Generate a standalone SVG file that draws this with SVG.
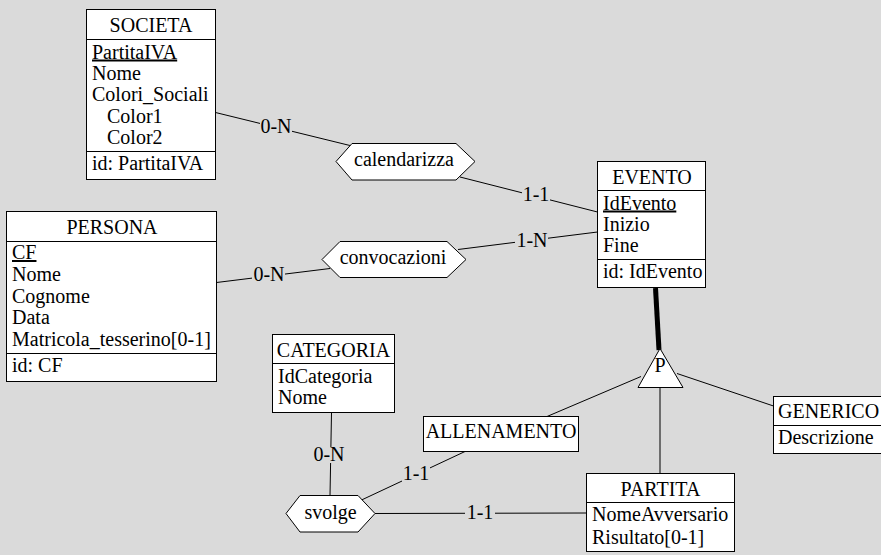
<svg xmlns="http://www.w3.org/2000/svg" width="881" height="555" viewBox="0 0 881 555">
<style>
.bg{fill:#dadada}
.box{fill:#fff;stroke:#000;stroke-width:1}
.sep{stroke:#000;stroke-width:1}
.t{font-family:"Liberation Serif","Times New Roman",serif;font-size:20px;fill:#000}
.c{text-anchor:middle}
.u{text-decoration:underline}
.ln{stroke:#000;stroke-width:1;fill:none}
.thick{stroke:#000;stroke-width:5;fill:none}
.lb{fill:#dadada}
</style>
<rect class="bg" x="0" y="0" width="881" height="555"/>

<g id="connectors">
  <line class="ln" x1="215.5" y1="112.5" x2="352" y2="146"/>
  <line class="ln" x1="460" y1="177" x2="597.5" y2="212"/>
  <line class="ln" x1="216.5" y1="282.5" x2="330" y2="268.5"/>
  <line class="ln" x1="458" y1="249.5" x2="597.5" y2="232"/>
  <line class="thick" x1="655.5" y1="288" x2="659" y2="350"/>
  <line class="ln" x1="641" y1="376.5" x2="547" y2="416.5"/>
  <line class="ln" x1="677" y1="373.5" x2="773.5" y2="406"/>
  <line class="ln" x1="660" y1="387.5" x2="660" y2="473.5"/>
  <line class="ln" x1="331.5" y1="412.5" x2="330" y2="495.5"/>
  <line class="ln" x1="361.5" y1="500" x2="465" y2="451.5"/>
  <line class="ln" x1="375" y1="513.5" x2="586.5" y2="513"/>
  <rect class="lb" x="260" y="119" width="32" height="16"/>
  <text class="t c" x="276" y="133">0-N</text>
  <rect class="lb" x="522" y="187" width="28" height="16"/>
  <text class="t c" x="536" y="200.5">1-1</text>
  <rect class="lb" x="252" y="267" width="33" height="16"/>
  <text class="t c" x="269" y="281">0-N</text>
  <rect class="lb" x="515" y="233" width="33" height="16"/>
  <text class="t c" x="532" y="247">1-N</text>
  <rect class="lb" x="313" y="447" width="32" height="16"/>
  <text class="t c" x="329" y="461">0-N</text>
  <rect class="lb" x="402" y="466" width="28" height="16"/>
  <text class="t c" x="416" y="480">1-1</text>
  <rect class="lb" x="465" y="504" width="30" height="16"/>
  <text class="t c" x="480" y="518.5">1-1</text>
</g>

<g id="SOCIETA">
  <rect class="box" x="86.5" y="9.5" width="129" height="170"/>
  <line class="sep" x1="86.5" y1="39.5" x2="215.5" y2="39.5"/>
  <line class="sep" x1="86.5" y1="151.5" x2="215.5" y2="151.5"/>
  <text class="t c" x="151" y="32">SOCIETA</text>
  <text class="t u" x="92" y="58.5">PartitaIVA</text>
  <text class="t" x="92" y="80">Nome</text>
  <text class="t" x="92" y="101">Colori_Sociali</text>
  <text class="t" x="107" y="122.5">Color1</text>
  <text class="t" x="107" y="144">Color2</text>
  <text class="t" x="92" y="170">id: PartitaIVA</text>
</g>

<g id="PERSONA">
  <rect class="box" x="6.5" y="211.5" width="210" height="170"/>
  <line class="sep" x1="6.5" y1="241.5" x2="216.5" y2="241.5"/>
  <line class="sep" x1="6.5" y1="353.5" x2="216.5" y2="353.5"/>
  <text class="t c" x="112" y="234">PERSONA</text>
  <text class="t u" x="12" y="259">CF</text>
  <text class="t" x="12" y="281">Nome</text>
  <text class="t" x="12" y="302.5">Cognome</text>
  <text class="t" x="12" y="324">Data</text>
  <text class="t" x="12" y="346">Matricola_tesserino[0-1]</text>
  <text class="t" x="12" y="372">id: CF</text>
</g>

<g id="EVENTO">
  <rect class="box" x="597.5" y="161.5" width="108" height="126"/>
  <line class="sep" x1="597.5" y1="190.5" x2="705.5" y2="190.5"/>
  <line class="sep" x1="597.5" y1="259.5" x2="705.5" y2="259.5"/>
  <text class="t c" x="652" y="184">EVENTO</text>
  <text class="t u" x="603" y="209.5">IdEvento</text>
  <text class="t" x="603" y="230.5">Inizio</text>
  <text class="t" x="603" y="252">Fine</text>
  <text class="t" x="603" y="278">id: IdEvento</text>
</g>

<g id="CATEGORIA">
  <rect class="box" x="272.5" y="334.5" width="122" height="78"/>
  <line class="sep" x1="272.5" y1="363.5" x2="394.5" y2="363.5"/>
  <text class="t c" x="333.5" y="357">CATEGORIA</text>
  <text class="t" x="278" y="382.5">IdCategoria</text>
  <text class="t" x="278" y="403.5">Nome</text>
</g>

<g id="ALLENAMENTO">
  <rect class="box" x="423.5" y="416.5" width="155" height="35"/>
  <text class="t c" x="501" y="437.5">ALLENAMENTO</text>
</g>

<g id="PARTITA">
  <rect class="box" x="586.5" y="473.5" width="148" height="78"/>
  <line class="sep" x1="586.5" y1="502.5" x2="734.5" y2="502.5"/>
  <text class="t c" x="660.5" y="496">PARTITA</text>
  <text class="t" x="592" y="521">NomeAvversario</text>
  <text class="t" x="592" y="543.5">Risultato[0-1]</text>
</g>

<g id="GENERICO">
  <rect class="box" x="773.5" y="396.5" width="120" height="57"/>
  <line class="sep" x1="773.5" y1="425.5" x2="893.5" y2="425.5"/>
  <text class="t" x="778" y="417.5">GENERICO</text>
  <text class="t" x="778" y="443.5">Descrizione</text>
</g>

<g id="calendarizza">
  <polygon class="box" points="336,161.5 352,143.5 456,143.5 475,161.5 456,180 352,180"/>
  <text class="t c" x="404" y="166">calendarizza</text>
</g>

<g id="convocazioni">
  <polygon class="box" points="322,259.5 340,241.5 447,241.5 466,259.5 447,277.5 340,277.5"/>
  <text class="t c" x="393" y="263.5">convocazioni</text>
</g>

<g id="svolge">
  <polygon class="box" points="286,513.5 300,495.5 358,495.5 375,513.5 358,532 300,532"/>
  <text class="t c" x="330.5" y="518.5">svolge</text>
</g>

<g id="isa-P">
  <polygon class="box" points="660,348.5 638,387.5 683,387.5"/>
  <text class="t c" x="660" y="372">P</text>
</g>
</svg>
